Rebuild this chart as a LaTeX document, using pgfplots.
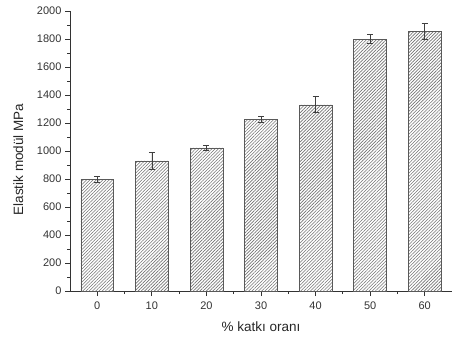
\documentclass[border=0pt]{standalone}
\usepackage{fontspec}
\setmainfont{Liberation Sans}
\usepackage{pgfplots}
\pgfplotsset{compat=1.18}
\usetikzlibrary{patterns.meta}
\begin{document}
\begin{tikzpicture}
\begin{axis}[
  scale only axis, width=382pt, height=280pt,
  xmin=-5, xmax=65, ymin=0, ymax=2000,
  axis x line*=bottom, axis y line*=left,
  axis line style={black!80, line width=0.9pt},
  ybar,
  xtick={0,10,...,60}, minor x tick num=1,
  ytick={0,200,...,2000}, minor y tick num=1,
  tick align=outside,
  major tick length=5pt, minor tick length=3pt,
  tick style={black!80, line width=0.8pt},
  /pgf/number format/assume math mode=true,
  /pgf/number format/1000 sep={},
  tick label style={font=\fontsize{11}{13}\selectfont, text=black!80},
  xticklabel style={yshift=-2pt},
  label style={font=\fontsize{13.5}{15}\selectfont, text=black!85},
  xlabel={\% katkı oranı},
  ylabel={Elastik modül MPa},
  xlabel style={at={(axis description cs:0.5,-0.098)}, anchor=north},
  ylabel style={at={(axis description cs:-0.113,0.47)}, anchor=south},
]
\addplot[bar width=6, draw=black!65, line width=0.6pt,
  pattern={Lines[angle=45,distance=2.3pt,line width=0.6pt]}, pattern color=black!55,
  error bars/.cd, y dir=both, y explicit,
  error bar style={black!75, line width=0.7pt},
  error mark options={rotate=90, mark size=3pt, black!75, line width=0.7pt}]
coordinates {
  (0,797) +- (0,21)
  (10,930) +- (0,60)
  (20,1022) +- (0,18)
  (30,1228) +- (0,20)
  (40,1330) +- (0,57)
  (50,1800) +- (0,32)
  (60,1855) +- (0,58)
};
\end{axis}
\path ([xshift=-70pt,yshift=-47pt]current axis.south west) rectangle ([xshift=2pt,yshift=11pt]current axis.north east);
\end{tikzpicture}
\end{document}
